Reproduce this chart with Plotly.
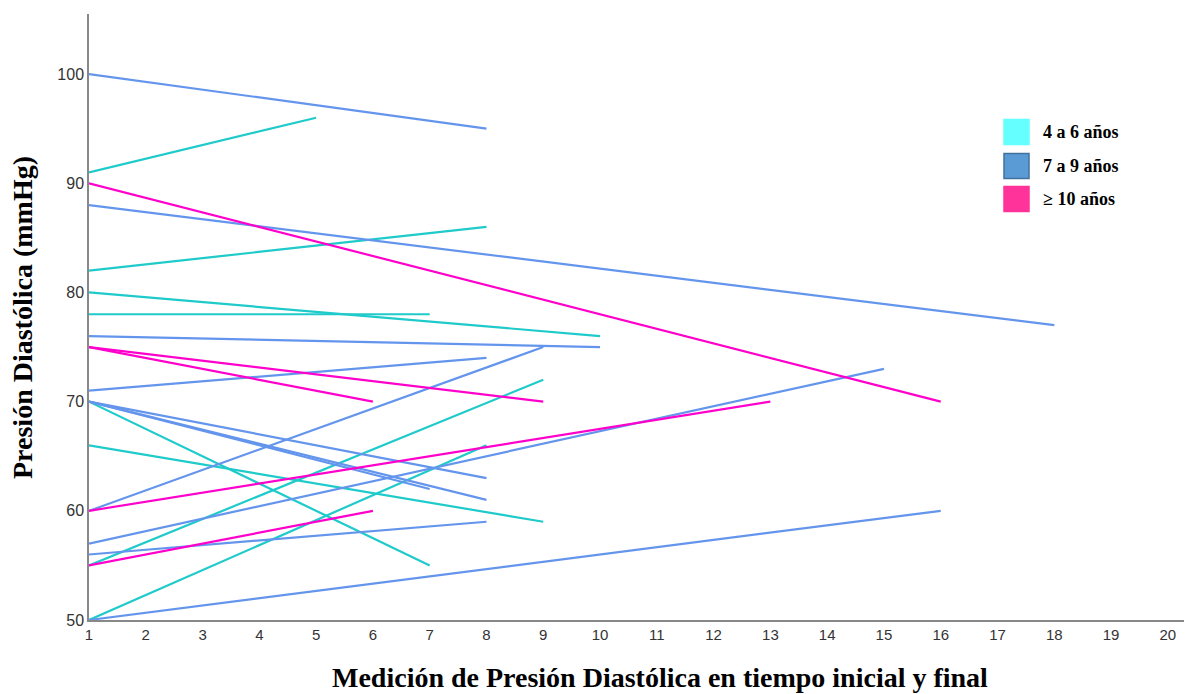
import plotly.graph_objects as go

# ---- data ----
x_start = 1
cyan_end_x = [5, 8, 10, 7, 7, 9, 9, 8]
cyan_start = [91, 82, 80, 78, 70, 66, 55, 50]
cyan_end = [96, 86, 76, 78, 55, 59, 72, 66]

blue_end_x = [8, 18, 10, 8, 8, 7, 8, 9, 15, 8, 16]
blue_start = [100, 88, 76, 71, 70, 70, 70, 60, 57, 56, 50]
blue_end = [95, 77, 75, 74, 63, 62, 61, 75, 73, 59, 60]

pink_end_x = [16, 9, 6, 13, 6]
pink_start = [90, 75, 75, 60, 55]
pink_end = [70, 70, 70, 70, 60]

legend_labels = ["4 a 6 años", "7 a 9 años", "≥ 10 años"]
x_ticks = list(range(1, 21))
y_ticks = [50, 60, 70, 80, 90, 100]

CYAN = "#1FCACA"
BLUE = "#6495ED"
PINK = "#FF00CC"

fig = go.Figure()

def add_group(ends_x, starts, ends, color):
    for ex, s, e in zip(ends_x, starts, ends):
        fig.add_trace(go.Scatter(x=[x_start, ex], y=[s, e], mode="lines",
                                 line=dict(color=color, width=2.2),
                                 showlegend=False, hoverinfo="skip"))

add_group(cyan_end_x, cyan_start, cyan_end, CYAN)
add_group(blue_end_x, blue_start, blue_end, BLUE)
add_group(pink_end_x, pink_start, pink_end, PINK)

# page body has an 8px margin; plot area on screen spans x 89..1190, y 14..620
W, H = 1192, 694
OFF = 8
L, R, T, B = 81, 10, 6, 82
PW, PH = W - L - R, H - T - B

def px(xs):
    return (xs - OFF - L) / PW

def py(ys):
    return (H - B - (ys - OFF)) / PH

# legend drawn as swatches + text
leg_fill = ["#66FFFF", "#5B9BD5", "#FF3399"]
leg_line = ["#66FFFF", "#41719C", "#FF3399"]
leg_y = [132, 166, 199]  # pixel centers
for lab, fc, lc, yc in zip(legend_labels, leg_fill, leg_line, leg_y):
    fig.add_shape(type="rect", xref="paper", yref="paper",
                  x0=px(1004), x1=px(1029), y0=py(yc + 12.5), y1=py(yc - 12.5),
                  fillcolor=fc, line=dict(color=lc, width=1.5))
    fig.add_annotation(xref="paper", yref="paper", x=px(1041), y=py(yc),
                       xanchor="left", yanchor="middle", showarrow=False,
                       text="<b>" + lab + "</b>",
                       font=dict(family="Liberation Serif", size=18, color="#000"))

# axis titles
fig.add_annotation(xref="paper", yref="paper", x=px(660), y=py(677),
                   xanchor="center", yanchor="middle", showarrow=False,
                   text="<b>Medición de Presión Diastólica en tiempo inicial y final</b>",
                   font=dict(family="Liberation Serif", size=28, color="#000"))
fig.add_annotation(xref="paper", yref="paper", x=px(22), y=py(318),
                   xanchor="center", yanchor="middle", showarrow=False, textangle=-90,
                   text="<b>Presión Diastólica (mmHg)</b>",
                   font=dict(family="Liberation Serif", size=28, color="#000"))

fig.update_layout(
    width=W, height=H,
    margin=dict(l=L, r=R, t=T, b=B, autoexpand=False),
    paper_bgcolor="white", plot_bgcolor="white",
    showlegend=False,
    font=dict(family="Liberation Sans, Arial", size=14, color="#333"),
)
fig.update_xaxes(range=[1, 20.39], tickvals=x_ticks, showgrid=False, zeroline=False,
                 showline=True, linecolor="#888", linewidth=1.5, ticks="",
                 automargin=False, tickfont=dict(size=15, color="#333"))
fig.update_yaxes(range=[50, 105.5], tickvals=y_ticks, showgrid=False, zeroline=False,
                 showline=True, linecolor="#888", linewidth=1.5, ticks="",
                 automargin=False, tickfont=dict(size=16, color="#333"))

fig.write_html("out.html")
